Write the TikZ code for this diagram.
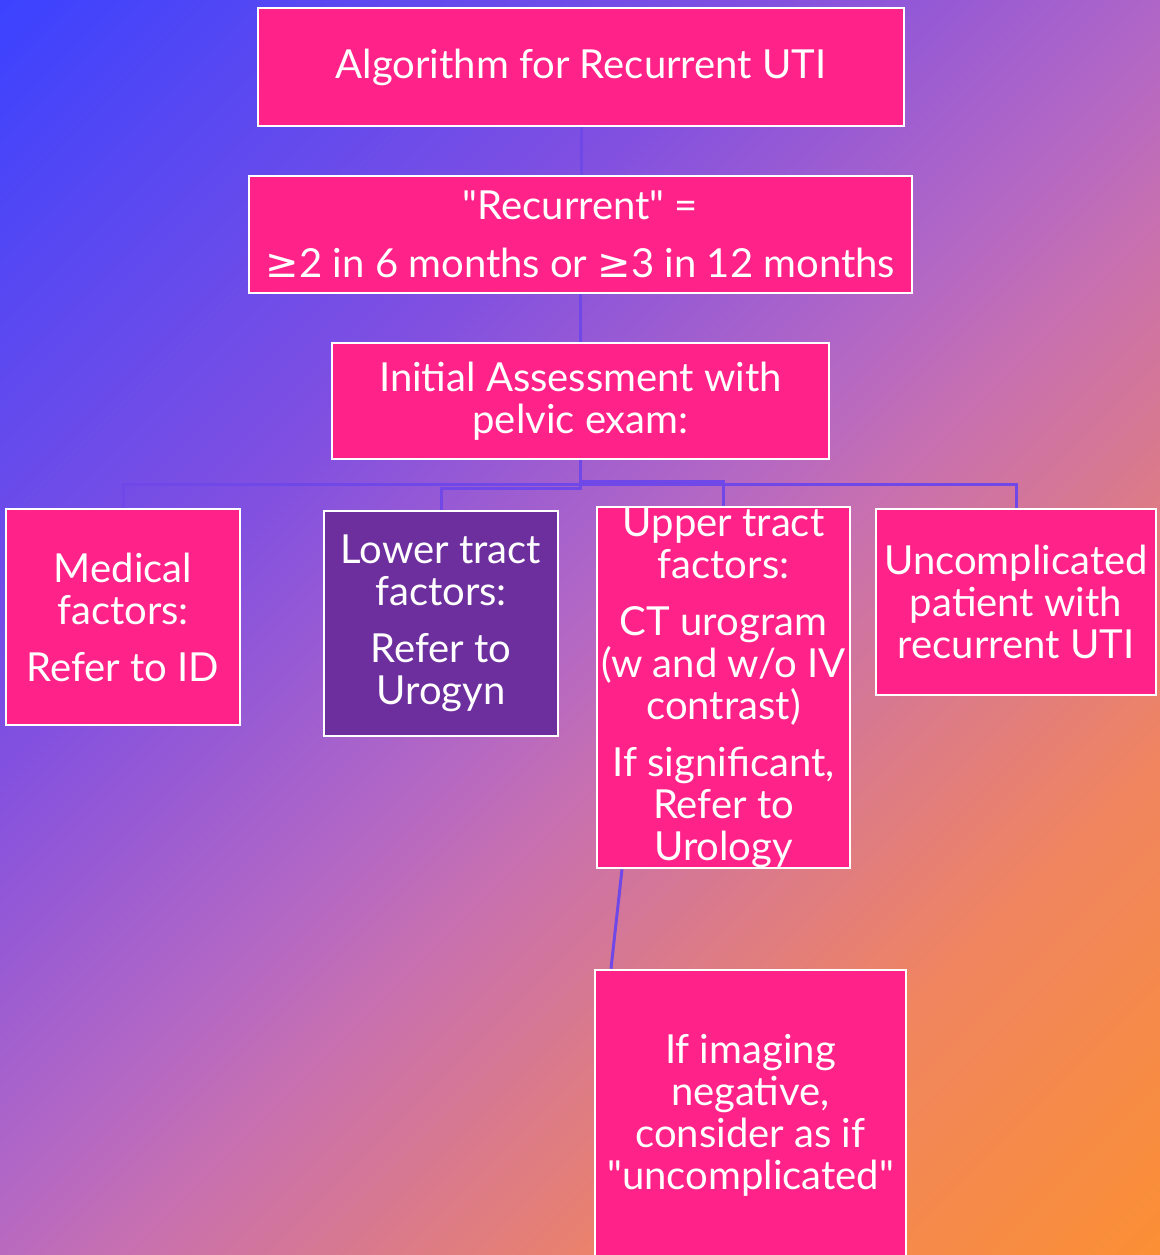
\documentclass[tikz,border=0pt]{standalone}
\usepackage{fontspec}
\setmainfont{Lato}[Ligatures=TeXOff]
\newfontfamily\symfont{DejaVu Sans}
\definecolor{bgblue}{HTML}{3A42FF}
\definecolor{bgviolet}{HTML}{8250E0}
\definecolor{bgmid}{HTML}{B468C4}
\definecolor{bgrose}{HTML}{C870B0}
\definecolor{bgsalmon}{HTML}{F08560}
\definecolor{bgorange}{HTML}{FC9030}
\definecolor{boxpink}{HTML}{FF2288}
\definecolor{boxpurple}{HTML}{6E2F9E}
\definecolor{linkblue}{HTML}{7048E8}
\pgfdeclareverticalshading{bgshade}{100bp}{color(0bp)=(bgorange); color(13bp)=(bgorange);
  color(29bp)=(bgsalmon); color(45bp)=(bgrose); color(50bp)=(bgmid);
  color(63bp)=(bgviolet); color(86bp)=(bgblue); color(100bp)=(bgblue)}
\tikzset{
  box/.style={draw=white, line width=1.3pt, fill=boxpink, text=white,
    align=center, inner sep=0pt, font=\fontsize{20}{21}\selectfont},
  darkbox/.style={box, fill=boxpurple},
  link/.style={draw=linkblue, line width=1.5pt}
}
\begin{document}
\begin{tikzpicture}[x=0.5pt, y=-0.5pt]
    % Background
    \useasboundingbox (0,0) rectangle (1160,1255);
    \clip (0,0) rectangle (1160,1255);
    \shade[shading=bgshade, shading angle=45] (0,0) rectangle (1160,1255);

    % Top of the chart
    \node[box, minimum width=323pt, minimum height=59pt] (title) at (581,67)
      {Algorithm for Recurrent UTI};
    \node[box, minimum width=331.5pt, minimum height=58.5pt] (recur) at (580.5,234.5)
      {"Recurrent" =\\[8pt] {\symfont ≥}2 in 6 months or {\symfont ≥}3 in 12 months};
    \node[box, minimum width=248.5pt, minimum height=58pt] (assess) at (580.5,401)
      {Initial Assessment with\\ pelvic exam:};

    % The four branches
    \node[box, minimum width=117pt, minimum height=108pt] (medical) at (123,617)
      {Medical\\ factors:\\[7.5pt] Refer to ID};
    \node[darkbox, minimum width=117pt, minimum height=112.5pt] (lower) at (441,623.5)
      {Lower tract\\ factors:\\[7.5pt] Refer to\\ Urogyn};
    \node[box, minimum width=126.5pt, minimum height=180.5pt] (upper) at (723.5,687.5)
      {Upper tract\\ factors:\\[7.5pt] CT urogram\\ (w and w/o IV\\ contrast)\\[7.5pt]
       If significant,\\ Refer to\\ Urology};
    \node[box, minimum width=140pt, minimum height=93pt] (uncomp) at (1016,602)
      {Uncomplicated\\ patient with\\ recurrent UTI};

    % Follow-up box
    \node[box, minimum width=155.5pt, minimum height=145pt] (imaging) at (750.5,1115)
      {If imaging\\ negative,\\ consider as if\\ "uncomplicated"};

    % Connectors
    \draw[link] (title.south) -- (title.south |- recur.north);
    \draw[link] (recur.south) -- (recur.south |- assess.north);
    \draw[link] (assess.south) -- ++(0,24) -| (medical.north);
    \draw[link] (assess.south) -- ++(0,28) -| (lower.north);
    \draw[link] (assess.south) -- ++(0,21) -| (upper.north);
    \draw[link] (assess.south) -- ++(0,24) -| (uncomp.north);
    \draw[link] ([xshift=-50.75pt]upper.south) -- ([xshift=-69.75pt]imaging.north);
\end{tikzpicture}
\end{document}
